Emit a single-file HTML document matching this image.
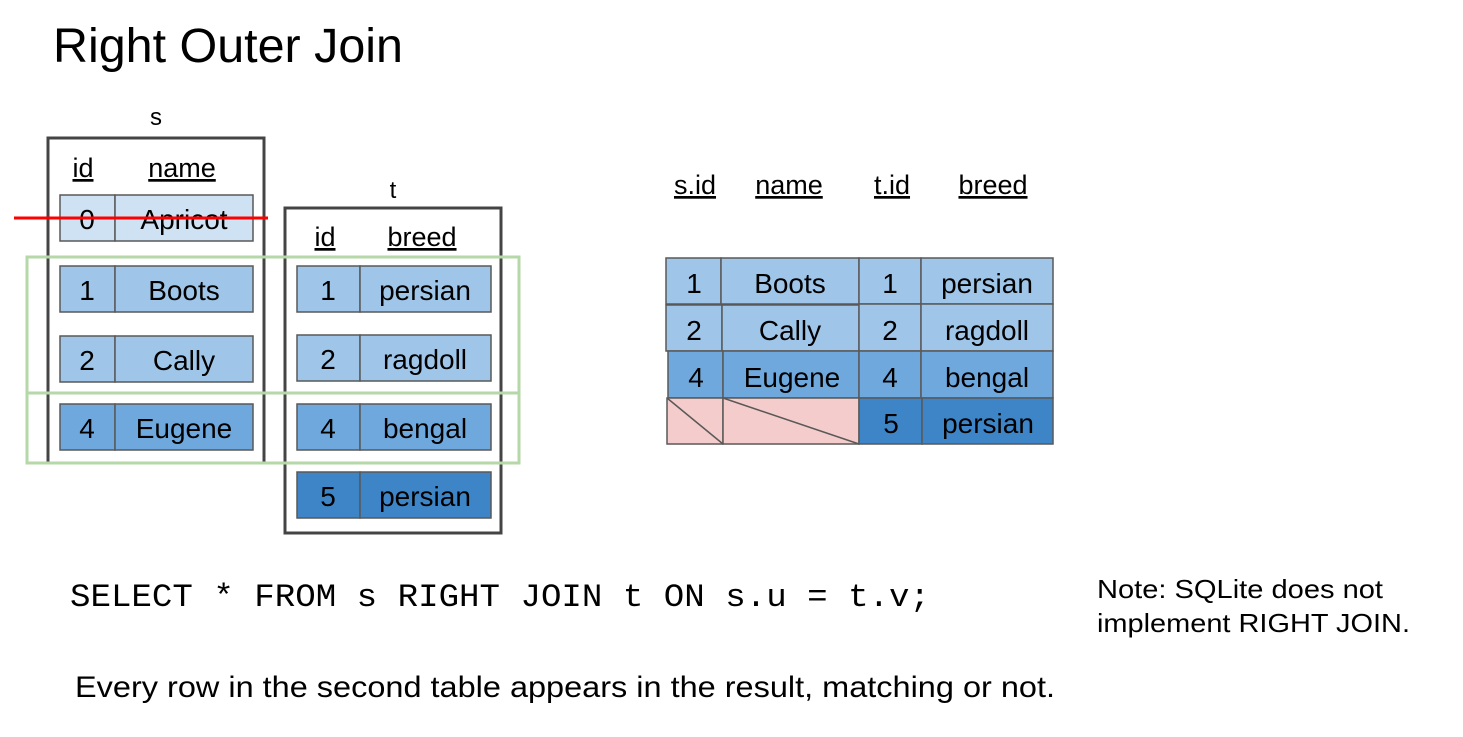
<!DOCTYPE html>
<html><head><meta charset="utf-8"><style>
html,body{margin:0;padding:0;background:#fff;width:1463px;height:737px;overflow:hidden}
svg{display:block}
text{font-family:"Liberation Sans",sans-serif;fill:#000}
.c{font-size:28px;text-anchor:middle}
.h{font-size:27px;text-anchor:middle;text-decoration:underline}
.cell{stroke:#595959;stroke-width:1.5}
</style></head><body>
<svg width="1463" height="737" viewBox="0 0 1463 737">
<text x="53" y="62" font-size="48" textLength="350" lengthAdjust="spacingAndGlyphs" style="font-weight:300">Right Outer Join</text>
<text x="156" y="125" font-size="24" text-anchor="middle">s</text>
<text x="393" y="198" font-size="24" text-anchor="middle">t</text>

<rect x="48" y="138" width="216" height="325" fill="none" stroke="#444" stroke-width="3"/>
<text class="h" x="83" y="177">id</text><text class="h" x="182" y="177">name</text>
<g class="cell">
<rect x="60" y="195" width="55" height="46" fill="#cfe2f3"/><rect x="115" y="195" width="138" height="46" fill="#cfe2f3"/>
<rect x="60" y="266" width="55" height="46" fill="#9fc5e8"/><rect x="115" y="266" width="138" height="46" fill="#9fc5e8"/>
<rect x="60" y="336" width="55" height="46" fill="#9fc5e8"/><rect x="115" y="336" width="138" height="46" fill="#9fc5e8"/>
<rect x="60" y="404" width="55" height="46" fill="#6fa8dc"/><rect x="115" y="404" width="138" height="46" fill="#6fa8dc"/>
</g>
<text class="c" x="87" y="229">0</text><text class="c" x="184" y="229">Apricot</text>
<text class="c" x="87" y="300">1</text><text class="c" x="184" y="300">Boots</text>
<text class="c" x="87" y="370">2</text><text class="c" x="184" y="370">Cally</text>
<text class="c" x="87" y="438">4</text><text class="c" x="184" y="438">Eugene</text>
<line x1="14" y1="218" x2="268" y2="218" stroke="#f00" stroke-width="3"/>

<rect x="285" y="208" width="216" height="325" fill="none" stroke="#444" stroke-width="3"/>
<text class="h" x="325" y="246">id</text><text class="h" x="422" y="246">breed</text>
<g class="cell">
<rect x="297" y="266" width="63" height="46" fill="#9fc5e8"/><rect x="360" y="266" width="131" height="46" fill="#9fc5e8"/>
<rect x="297" y="335" width="63" height="46" fill="#9fc5e8"/><rect x="360" y="335" width="131" height="46" fill="#9fc5e8"/>
<rect x="297" y="404" width="63" height="46" fill="#6fa8dc"/><rect x="360" y="404" width="131" height="46" fill="#6fa8dc"/>
<rect x="297" y="472" width="63" height="46" fill="#3d85c6"/><rect x="360" y="472" width="131" height="46" fill="#3d85c6"/>
</g>
<text class="c" x="328" y="300">1</text><text class="c" x="425" y="300">persian</text>
<text class="c" x="328" y="369">2</text><text class="c" x="425" y="369">ragdoll</text>
<text class="c" x="328" y="438">4</text><text class="c" x="425" y="438">bengal</text>
<text class="c" x="328" y="506">5</text><text class="c" x="425" y="506">persian</text>

<rect x="27" y="257" width="492" height="206" fill="none" stroke="#b6d7a8" stroke-width="3"/>
<line x1="27" y1="393" x2="519" y2="393" stroke="#b6d7a8" stroke-width="3"/>

<text class="h" x="695" y="194">s.id</text><text class="h" x="789" y="194">name</text>
<text class="h" x="892" y="194">t.id</text><text class="h" x="993" y="194">breed</text>
<g class="cell">
<rect x="666" y="258" width="55" height="46" fill="#9fc5e8"/><rect x="721" y="258" width="138" height="46" fill="#9fc5e8"/>
<rect x="859" y="258" width="62" height="46" fill="#9fc5e8"/><rect x="921" y="258" width="132" height="46" fill="#9fc5e8"/>
<rect x="666" y="305" width="56" height="46" fill="#9fc5e8"/><rect x="722" y="305" width="137" height="46" fill="#9fc5e8"/>
<rect x="859" y="304" width="62" height="47" fill="#9fc5e8"/><rect x="921" y="304" width="132" height="47" fill="#9fc5e8"/>
<rect x="668" y="351" width="55" height="47" fill="#6fa8dc"/><rect x="723" y="351" width="136" height="47" fill="#6fa8dc"/>
<rect x="859" y="351" width="62" height="47" fill="#6fa8dc"/><rect x="921" y="351" width="132" height="47" fill="#6fa8dc"/>
<rect x="667" y="398" width="56" height="46" fill="#f4cccc"/><rect x="723" y="398" width="136" height="46" fill="#f4cccc"/>
<rect x="859" y="398" width="63" height="46" fill="#3d85c6"/><rect x="922" y="398" width="131" height="46" fill="#3d85c6"/>
<line x1="667" y1="398" x2="723" y2="444"/><line x1="723" y1="398" x2="859" y2="444"/>
</g>
<text class="c" x="694" y="293">1</text><text class="c" x="790" y="293">Boots</text>
<text class="c" x="890" y="293">1</text><text class="c" x="987" y="293">persian</text>
<text class="c" x="694" y="340">2</text><text class="c" x="790" y="340">Cally</text>
<text class="c" x="890" y="340">2</text><text class="c" x="987" y="340">ragdoll</text>
<text class="c" x="696" y="387">4</text><text class="c" x="792" y="387">Eugene</text>
<text class="c" x="890" y="387">4</text><text class="c" x="987" y="387">bengal</text>
<text class="c" x="891" y="433">5</text><text class="c" x="988" y="433">persian</text>

<text x="70" y="606" font-size="32" textLength="860" lengthAdjust="spacingAndGlyphs" style="font-family:'Liberation Mono',monospace">SELECT * FROM s RIGHT JOIN t ON s.u = t.v;</text>
<text x="1097" y="598" font-size="26" textLength="286" lengthAdjust="spacingAndGlyphs">Note: SQLite does not</text>
<text x="1097" y="632" font-size="26" textLength="313" lengthAdjust="spacingAndGlyphs">implement RIGHT JOIN.</text>
<text x="75" y="697" font-size="30" textLength="980" lengthAdjust="spacingAndGlyphs" style="font-weight:300">Every row in the second table appears in the result, matching or not.</text>
</svg>
</body></html>
